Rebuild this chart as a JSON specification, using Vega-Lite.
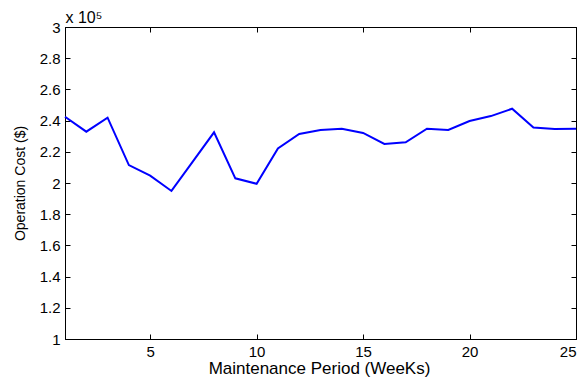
{
  "$schema": "https://vega.github.io/schema/vega-lite/v6.json",
  "width": 511,
  "height": 312,
  "autosize": {"type": "none"},
  "padding": {"left": 65, "top": 27, "right": 10, "bottom": 38},
  "background": "white",
  "config": {
    "view": {"stroke": "black", "strokeWidth": 1},
    "axis": {
      "grid": false,
      "domainColor": "black",
      "tickColor": "black",
      "labelColor": "black",
      "titleColor": "black",
      "labelFont": "Liberation Sans",
      "titleFont": "Liberation Sans",
      "labelFontSize": 15,
      "titleFontSize": 15,
      "titleFontWeight": "normal",
      "tickSize": -5,
      "labelPadding": 10
    }
  },
  "data": {
    "values": [
      {"week": 1, "cost": 242500},
      {"week": 2, "cost": 232900},
      {"week": 3, "cost": 241900},
      {"week": 4, "cost": 211500},
      {"week": 5, "cost": 204700},
      {"week": 6, "cost": 194900},
      {"week": 7, "cost": 213700},
      {"week": 8, "cost": 232500},
      {"week": 9, "cost": 203000},
      {"week": 10, "cost": 199500},
      {"week": 11, "cost": 222200},
      {"week": 12, "cost": 231400},
      {"week": 13, "cost": 234000},
      {"week": 14, "cost": 234800},
      {"week": 15, "cost": 232100},
      {"week": 16, "cost": 225000},
      {"week": 17, "cost": 226100},
      {"week": 18, "cost": 234800},
      {"week": 19, "cost": 234000},
      {"week": 20, "cost": 239700},
      {"week": 21, "cost": 242900},
      {"week": 22, "cost": 247600},
      {"week": 23, "cost": 235500},
      {"week": 24, "cost": 234600},
      {"week": 25, "cost": 234800}
    ]
  },
  "resolve": {"axis": {"x": "independent", "y": "independent"}},
  "layer": [
    {
      "mark": {"type": "line", "color": "#0000ff", "strokeWidth": 2},
      "encoding": {
        "x": {
          "field": "week", "type": "quantitative",
          "scale": {"domain": [1, 25], "nice": false, "zero": false},
          "axis": {"orient": "bottom", "values": [5, 10, 15, 20, 25], "title": "Maintenance Period (WeeKs)", "titleFontSize": 17, "titleBaseline": "alphabetic", "titleY": 34, "titleX": 254}
        },
        "y": {
          "field": "cost", "type": "quantitative",
          "scale": {"domain": [100000, 300000], "nice": false, "zero": false},
          "axis": {"orient": "left", "values": [100000, 120000, 140000, 160000, 180000, 200000, 220000, 240000, 260000, 280000, 300000],
            "labelExpr": "format(datum.value / 100000, '.1~f')",
            "title": "Operation Cost ($)", "titleFontSize": 14, "titlePadding": 12}
        }
      }
    },
    {
      "mark": {"type": "line", "opacity": 0},
      "encoding": {
        "x": {
          "field": "week", "type": "quantitative",
          "axis": {"orient": "top", "values": [5, 10, 15, 20, 25], "labels": false,
            "title": "x 10⁵", "titleFontSize": 16, "titleX": 0, "titleY": -5, "titleAlign": "left", "titleAngle": 0, "titleBaseline": "alphabetic"}
        },
        "y": {
          "field": "cost", "type": "quantitative",
          "axis": {"orient": "right", "values": [100000, 120000, 140000, 160000, 180000, 200000, 220000, 240000, 260000, 280000, 300000], "labels": false, "title": null}
        }
      }
    }
  ]
}
